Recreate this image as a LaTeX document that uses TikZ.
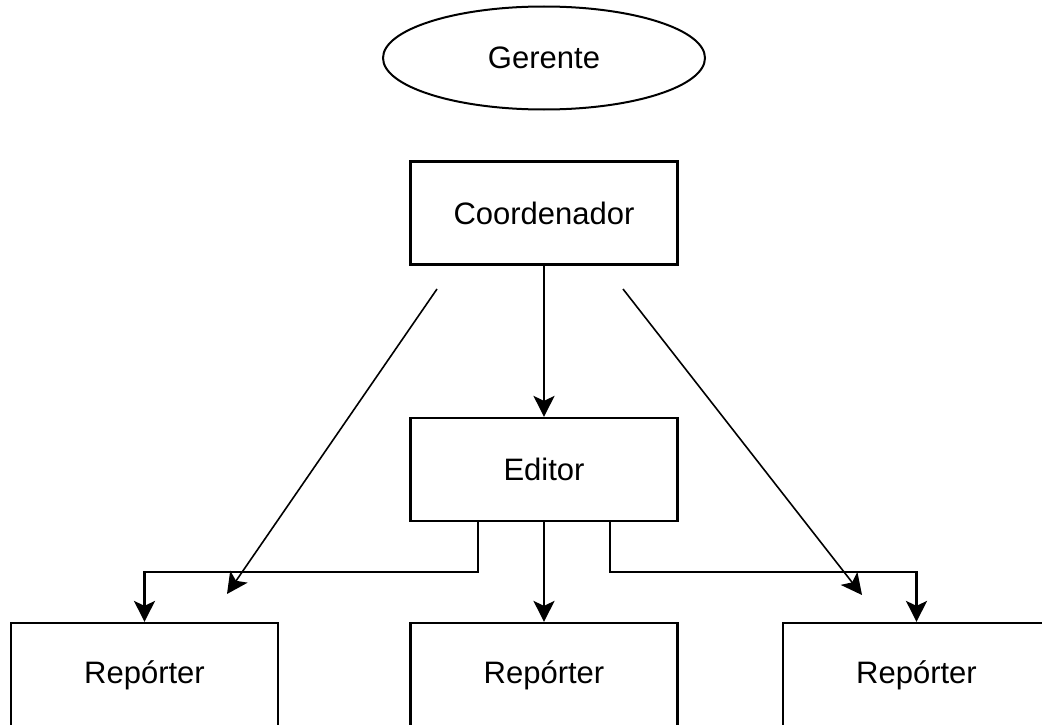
\documentclass[tikz,border=0pt]{standalone}
\usepackage{fontspec}
\setmainfont{Liberation Sans}
\usetikzlibrary{arrows.meta,shapes.geometric}
\begin{document}
\begin{tikzpicture}[x=1pt,y=-1pt,
  every node/.style={font=\fontsize{31}{36}\selectfont, text=black},
  box/.style={draw, line width=2.2pt, minimum width=267pt, minimum height=103pt, inner sep=0pt},
  oval/.style={draw, line width=2pt, ellipse, minimum width=322pt, minimum height=103pt, inner sep=0pt},
  headtip/.style={-{Stealth[length=21pt, width=21pt, inset=5pt]}},
  link/.style={line width=2.2pt, headtip},
  slant/.style={line width=1.6pt, headtip}]
  \clip (0,0) rectangle (1042,725);
  % roles
  \node[oval] (ger) at (544,58) {Gerente};
  \node[box] (coord) at (544,213) {Coordenador};
  \node[box] (ed) at (544,469.5) {Editor};
  \node[box, minimum height=104pt] (r1) at (144.5,675) {Repórter};
  \node[box, minimum height=104pt] (r2) at (544,675) {Repórter};
  \node[box, minimum height=104pt] (r3) at (916.5,675) {Repórter};
  % free ends of the slanted links
  \coordinate (dl0) at (437,289);
  \coordinate (dl1) at (227,594);
  \coordinate (dr0) at (623,289);
  \coordinate (dr1) at (862,595);
  \coordinate (bus) at (0,572);
  % links
  \draw[link] (coord.south) -- (ed.north);
  \draw[link] (ed.south) -- (r2.north);
  \draw[link] ([xshift=-66pt]ed.south) |- (r1.north |- bus) -- (r1.north);
  \draw[link] ([xshift=66pt]ed.south) |- (r3.north |- bus) -- (r3.north);
  \draw[slant] (dl0) -- (dl1);
  \draw[slant] (dr0) -- (dr1);
\end{tikzpicture}
\end{document}
